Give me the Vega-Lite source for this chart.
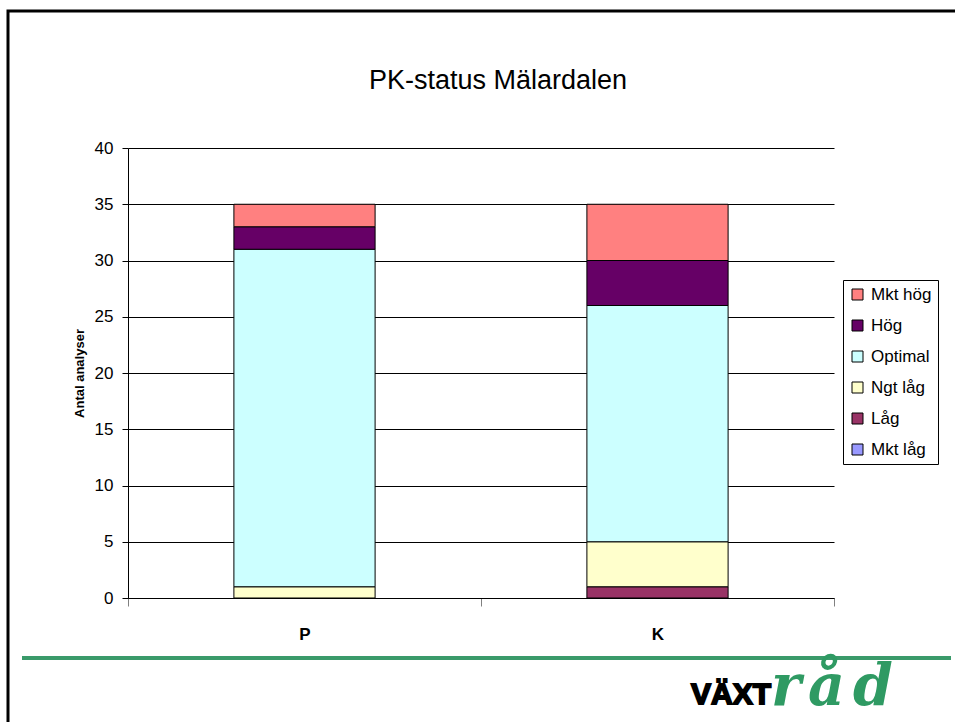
{
  "$schema": "https://vega.github.io/schema/vega-lite/v6.json",
  "width": 706,
  "height": 450,
  "autosize": {"type": "none"},
  "padding": {"left": 128, "top": 148, "right": 121, "bottom": 124},
  "background": "white",
  "title": {
    "text": "PK-status Mälardalen",
    "font": "Liberation Sans",
    "fontSize": 27,
    "fontWeight": "normal",
    "color": "black",
    "anchor": "middle",
    "frame": "group",
    "dx": 17,
    "offset": -85
  },
  "config": {"view": {"stroke": null}, "font": "Liberation Sans"},
  "layer": [
    {
      "data": {"values": [{}]},
      "mark": {"type": "rect", "fill": "transparent", "stroke": "black", "strokeWidth": 3},
      "encoding": {
        "x": {"value": -120},
        "x2": {"value": 840},
        "y": {"value": -137},
        "y2": {"value": 590}
      }
    },
    {
      "data": {
        "values": [
          {"element": "P", "status": "Ngt låg", "rank": 3, "antal": 1},
          {"element": "P", "status": "Optimal", "rank": 4, "antal": 30},
          {"element": "P", "status": "Hög", "rank": 5, "antal": 2},
          {"element": "P", "status": "Mkt hög", "rank": 6, "antal": 2},
          {"element": "K", "status": "Låg", "rank": 2, "antal": 1},
          {"element": "K", "status": "Ngt låg", "rank": 3, "antal": 4},
          {"element": "K", "status": "Optimal", "rank": 4, "antal": 21},
          {"element": "K", "status": "Hög", "rank": 5, "antal": 4},
          {"element": "K", "status": "Mkt hög", "rank": 6, "antal": 5}
        ]
      },
      "mark": {"type": "bar", "stroke": "black", "strokeWidth": 1, "width": {"band": 0.4}},
      "encoding": {
        "x": {
          "field": "element",
          "type": "nominal",
          "sort": ["P", "K"],
          "scale": {"paddingInner": 0, "paddingOuter": 0},
          "axis": {
            "title": null,
            "labelAngle": 0,
            "labelFont": "Liberation Sans",
            "labelFontSize": 17,
            "labelFontWeight": "bold",
            "labelColor": "black",
            "labelPadding": 20,
            "tickBand": "extent",
            "tickSize": 8,
            "tickColor": "#808080",
            "tickWidth": 1,
            "domainColor": "black",
            "domainWidth": 1,
            "grid": false
          }
        },
        "y": {
          "field": "antal",
          "type": "quantitative",
          "stack": "zero",
          "scale": {"domain": [0, 40], "nice": false},
          "axis": {
            "title": "Antal analyser",
            "titleFont": "Liberation Sans",
            "titleFontSize": 13,
            "titleFontWeight": "bold",
            "titleColor": "black",
            "titlePadding": 8,
            "values": [0, 5, 10, 15, 20, 25, 30, 35, 40],
            "grid": true,
            "gridColor": "black",
            "gridOpacity": 1,
            "gridWidth": 1,
            "domainColor": "black",
            "tickColor": "black",
            "tickSize": 6,
            "labelFont": "Liberation Sans",
            "labelFontSize": 17,
            "labelColor": "black",
            "labelPadding": 9
          }
        },
        "color": {
          "field": "status",
          "type": "nominal",
          "scale": {
            "domain": ["Mkt hög", "Hög", "Optimal", "Ngt låg", "Låg", "Mkt låg"],
            "range": ["#FF8080", "#660066", "#CCFFFF", "#FFFFCC", "#993366", "#9999FF"]
          },
          "legend": {
            "title": null,
            "orient": "none",
            "legendX": 715,
            "legendY": 132,
            "strokeColor": "black",
            "fillColor": "white",
            "padding": 6,
            "symbolType": "square",
            "symbolSize": 121,
            "symbolStrokeColor": "black",
            "symbolStrokeWidth": 1,
            "symbolOpacity": 1,
            "labelFont": "Liberation Sans",
            "labelFontSize": 17,
            "labelColor": "black",
            "labelOffset": 5,
            "rowPadding": 13
          }
        },
        "order": {"field": "rank", "type": "quantitative"}
      }
    },
    {
      "data": {"values": [{}]},
      "mark": {"type": "rule", "color": "#3a9a6a", "strokeWidth": 4},
      "encoding": {
        "x": {"value": -106},
        "x2": {"value": 823},
        "y": {"value": 510}
      }
    },
    {
      "data": {"values": [{}]},
      "mark": {
        "type": "text",
        "text": "VÄXT",
        "align": "left",
        "baseline": "alphabetic",
        "font": "Liberation Sans",
        "fontWeight": "bold",
        "fontSize": 30,
        "color": "black",
        "stroke": "black",
        "strokeWidth": 1.8
      },
      "encoding": {"x": {"value": 563}, "y": {"value": 556}}
    },
    {
      "data": {"values": [{}]},
      "mark": {
        "type": "text",
        "text": "r",
        "align": "left",
        "baseline": "alphabetic",
        "font": "DejaVu Serif",
        "fontWeight": "bold",
        "fontStyle": "italic",
        "fontSize": 57,
        "color": "#2f9a63"
      },
      "encoding": {"x": {"value": 643}, "y": {"value": 557}}
    },
    {
      "data": {"values": [{}]},
      "mark": {
        "type": "text",
        "text": "å",
        "align": "left",
        "baseline": "alphabetic",
        "font": "DejaVu Serif",
        "fontWeight": "bold",
        "fontStyle": "italic",
        "fontSize": 57,
        "color": "#2f9a63"
      },
      "encoding": {"x": {"value": 680}, "y": {"value": 557}}
    },
    {
      "data": {"values": [{}]},
      "mark": {
        "type": "text",
        "text": "d",
        "align": "left",
        "baseline": "alphabetic",
        "font": "DejaVu Serif",
        "fontWeight": "bold",
        "fontStyle": "italic",
        "fontSize": 57,
        "color": "#2f9a63"
      },
      "encoding": {"x": {"value": 725}, "y": {"value": 557}}
    }
  ]
}
